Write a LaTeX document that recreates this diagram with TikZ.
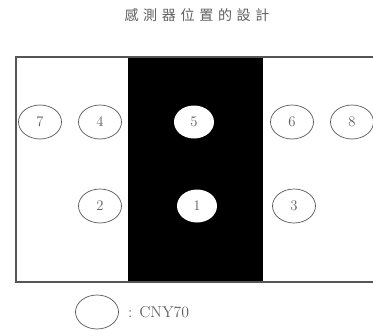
\documentclass[tikz,border=0pt]{standalone}
\usepackage{fontspec}
\usepackage{tikz}
\usetikzlibrary{shapes.geometric, positioning}
\newfontfamily\cjktc[LetterSpace=33]{Noto Sans CJK TC}
\definecolor{linegray}{RGB}{85,85,85}
\definecolor{txtgray}{RGB}{95,95,95}

\begin{document}
\begin{tikzpicture}[
  x=0.03cm, y=-0.03cm,
  sensor/.style={ellipse, draw=linegray, line width=0.6pt, minimum width=1.29cm, minimum height=1.02cm, inner sep=0pt, text=txtgray, font=\fontsize{12.5}{12.5}\selectfont},
  sensorlit/.style={sensor, draw=none, fill=white, minimum width=1.2cm, minimum height=0.99cm},
  every node/.style={font=\small}
]
\useasboundingbox (0,0) rectangle (373,332);

% ---- title ----
\node[text=txtgray, font=\cjktc\fontsize{12}{12}\selectfont] (title) at (197,15) {感測器位置的設計};

% ---- board with black track ----
\fill[black] (128,57) rectangle (263,282);
\draw[linegray, line width=0.9pt] (373,57) -- (16,57) -- (16,282) -- (373,282);

% ---- Row 1 ----
\node[sensor] (s7) at (40,122) {7};
\node[sensor] (s4) at (100,122) {4};
\node[sensorlit] (s5) at (194,122) {5};
\node[sensor] (s6) at (292,122) {6};
\node[sensor] (s8) at (352,122) {8};

% ---- Row 2 ----
\node[sensor] (s2) at (100,206) {2};
\node[sensorlit] (s1) at (197,206) {1};
\node[sensor] (s3) at (294,206) {3};

% ---- legend ----
\node[sensor] (key) at (97,312) {};
\node[anchor=west, text=txtgray, font=\fontsize{13.5}{13.5}\selectfont] (keytxt) at (124,312) {: CNY70};
\end{tikzpicture}
\end{document}
